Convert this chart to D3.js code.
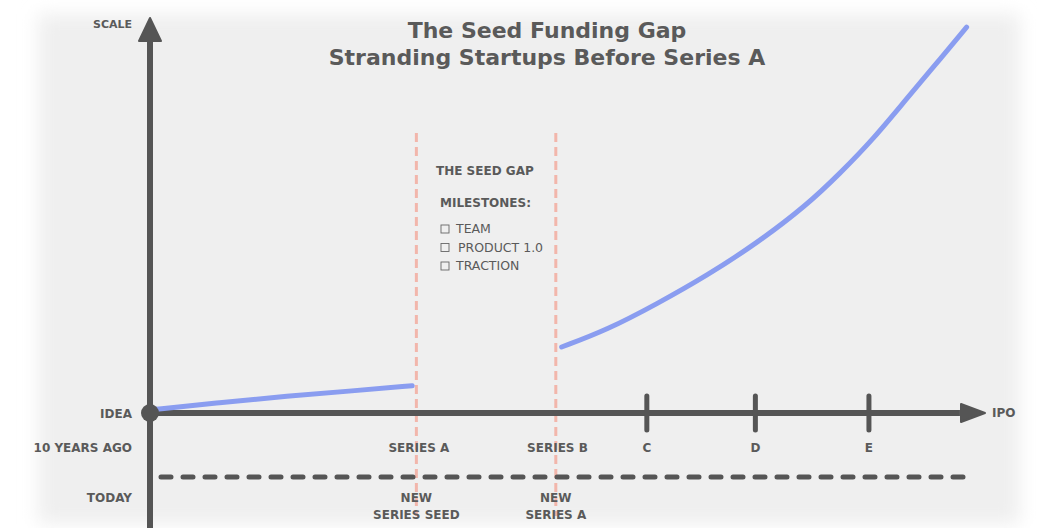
<!DOCTYPE html>
<meta charset="utf-8">
<title>The Seed Funding Gap</title>
<script src="https://d3js.org/d3.v7.min.js"></script>
<style>
  body { margin: 0; background: #fff; }
  text { font-family: "DejaVu Sans", sans-serif; fill: #5a5a5a; }
</style>
<body>
<script>

var w = 1041
var h = 528

// growth curve, before the gap and after it (x = time along funding path, y = scale)
var earlyX = [0, 8.4, 16.4, 24.3, 31.4]
var earlyY = [0.8, 2.6, 4.3, 5.6, 6.9]
var lateX = [49.3, 54.7, 60.7, 66.7, 72.7, 78.7, 82.6, 86.6, 90.7, 93.8, 97.8]
var lateY = [16.7, 21.0, 27.6, 34.8, 43.0, 52.7, 60.6, 69.3, 79.8, 87.5, 97.7]

// rounds along the x axis
var rounds = ["SERIES A", "SERIES B", "C", "D", "E"]
var roundPos = [32.2, 48.8, 59.5, 72.5, 86.1]
var tickRounds = ["C", "D", "E"]

// the seed gap boundaries and what they are called today
var gapPos = [31.9, 48.6]
var todayNames = [["NEW", "SERIES SEED"], ["NEW", "SERIES A"]]

var rowLabels = ["IDEA", "10 YEARS AGO", "TODAY"]
var milestones = ["TEAM", "PRODUCT 1.0", "TRACTION"]

var svg = d3.select("body")
  .append("svg")
  .attr("width", w)
  .attr("height", h);

var defs = svg.append("defs");
defs.append("filter").attr("id", "soft")
  .attr("x", "-5%").attr("y", "-5%").attr("width", "110%").attr("height", "110%")
  .append("feGaussianBlur").attr("stdDeviation", 9);

// panel
svg.append("rect")
  .attr("x", 38).attr("y", 14).attr("width", 982).attr("height", 510)
  .attr("fill", "#efefef")
  .attr("filter", "url(#soft)");

var x = d3.scaleLinear().domain([0, 100]).range([150, 985]);
var y = d3.scaleLinear().domain([0, 100]).range([413, 18]);

var axisColor = "#555";
var rowY = [414, 448, 498];
var todayLineY = 477;

// pink gap lines
svg.append("g")
  .selectAll("line")
  .data(gapPos)
  .enter()
  .append("line")
    .attr("x1", function(d) { return x(d); })
    .attr("x2", function(d) { return x(d); })
    .attr("y1", 133).attr("y2", 516)
    .attr("stroke", "#f2b6ab")
    .attr("stroke-width", 3)
    .attr("stroke-dasharray", "9,5");

// today dashed line
svg.append("line")
  .attr("x1", 161).attr("x2", 966)
  .attr("y1", todayLineY).attr("y2", todayLineY)
  .attr("stroke", axisColor)
  .attr("stroke-width", 5)
  .attr("stroke-linecap", "round")
  .attr("stroke-dasharray", "10,12");

// axes
svg.append("line")
  .attr("x1", x(0)).attr("x2", x(0))
  .attr("y1", h).attr("y2", y(97))
  .attr("stroke", axisColor).attr("stroke-width", 6);
svg.append("line")
  .attr("x1", x(0)).attr("x2", x(97))
  .attr("y1", y(0)).attr("y2", y(0))
  .attr("stroke", axisColor).attr("stroke-width", 6);

// arrow heads
svg.append("path")
  .attr("d", "M" + x(0) + "," + y(100) + " L" + (x(0) + 11) + "," + (y(100) + 23) +
             " L" + (x(0) - 11) + "," + (y(100) + 23) + "Z")
  .attr("fill", axisColor).attr("stroke", axisColor)
  .attr("stroke-width", 2).attr("stroke-linejoin", "round");
svg.append("path")
  .attr("d", "M" + x(100) + "," + y(0) + " L" + (x(100) - 24) + "," + (y(0) - 9) +
             " L" + (x(100) - 24) + "," + (y(0) + 9) + "Z")
  .attr("fill", axisColor).attr("stroke", axisColor)
  .attr("stroke-width", 2).attr("stroke-linejoin", "round");

// round ticks
svg.append("g")
  .selectAll("line")
  .data(tickRounds)
  .enter()
  .append("line")
    .attr("x1", function(d) { return x(roundPos[rounds.indexOf(d)]); })
    .attr("x2", function(d) { return x(roundPos[rounds.indexOf(d)]); })
    .attr("y1", y(0) - 17).attr("y2", y(0) + 17)
    .attr("stroke", axisColor)
    .attr("stroke-width", 5)
    .attr("stroke-linecap", "round");

// growth curve
var line = d3.line()
  .x(function(d) { return x(d[0]); })
  .y(function(d) { return y(d[1]); })
  .curve(d3.curveBasis);

[d3.zip(earlyX, earlyY), d3.zip(lateX, lateY)].forEach(function(seg) {
  svg.append("path")
    .datum(seg)
    .attr("d", line)
    .attr("fill", "none")
    .attr("stroke", "#8a9df0")
    .attr("stroke-width", 5)
    .attr("stroke-linecap", "round");
});

// origin dot
svg.append("circle")
  .attr("cx", x(0)).attr("cy", y(0)).attr("r", 9)
  .attr("fill", axisColor);

// row labels
svg.append("g")
  .selectAll("text")
  .data(rowLabels)
  .enter()
  .append("text")
    .attr("x", 132)
    .attr("y", function(d, i) { return rowY[i]; })
    .attr("dy", "0.35em")
    .attr("text-anchor", "end")
    .attr("font-size", 12)
    .attr("font-weight", "bold")
    .text(function(d) { return d; });

svg.append("text")
  .attr("x", 132).attr("y", 24).attr("dy", "0.35em")
  .attr("text-anchor", "end")
  .attr("font-size", 11).attr("font-weight", "bold")
  .text("SCALE");

svg.append("text")
  .attr("x", 992).attr("y", y(0)).attr("dy", "0.35em")
  .attr("font-size", 12).attr("font-weight", "bold")
  .text("IPO");

// round labels
svg.append("g")
  .selectAll("text")
  .data(rounds)
  .enter()
  .append("text")
    .attr("x", function(d, i) { return x(roundPos[i]); })
    .attr("y", rowY[1])
    .attr("dy", "0.35em")
    .attr("text-anchor", "middle")
    .attr("font-size", 12)
    .attr("font-weight", "bold")
    .text(function(d) { return d; });

// today names
todayNames.forEach(function(lines, i) {
  var t = svg.append("text")
    .attr("x", x(gapPos[i]))
    .attr("y", rowY[2])
    .attr("text-anchor", "middle")
    .attr("font-size", 12)
    .attr("font-weight", "bold");
  lines.forEach(function(s, j) {
    t.append("tspan")
      .attr("x", x(gapPos[i]))
      .attr("dy", j === 0 ? "0.35em" : 17)
      .text(s);
  });
});

// title
svg.append("text")
  .attr("x", 547).attr("y", 38)
  .attr("text-anchor", "middle")
  .attr("font-size", 22).attr("font-weight", "bold")
  .attr("fill", "#666")
  .text("The Seed Funding Gap");
svg.append("text")
  .attr("x", 547).attr("y", 65)
  .attr("text-anchor", "middle")
  .attr("font-size", 22).attr("font-weight", "bold")
  .attr("fill", "#666")
  .text("Stranding Startups Before Series A");

// gap annotation
svg.append("text")
  .attr("x", 436).attr("y", 175)
  .attr("font-size", 12).attr("font-weight", "bold")
  .text("THE SEED GAP");
svg.append("text")
  .attr("x", 440).attr("y", 207)
  .attr("font-size", 12).attr("font-weight", "bold")
  .text("MILESTONES:");

var ms = svg.append("g")
  .selectAll("g")
  .data(milestones)
  .enter()
  .append("g")
    .attr("transform", function(d, i) { return "translate(441," + (229 + i * 18.5) + ")"; });
ms.append("rect")
  .attr("x", 0).attr("y", -4).attr("width", 8).attr("height", 8)
  .attr("fill", "none").attr("stroke", "#666").attr("stroke-width", 0.9);
ms.append("text")
  .attr("x", function(d, i) { return i === 1 ? 17 : 15; })
  .attr("dy", "0.35em")
  .attr("font-size", 12.5)
  .attr("fill", "#666")
  .text(function(d) { return d; });

</script>
</body>
